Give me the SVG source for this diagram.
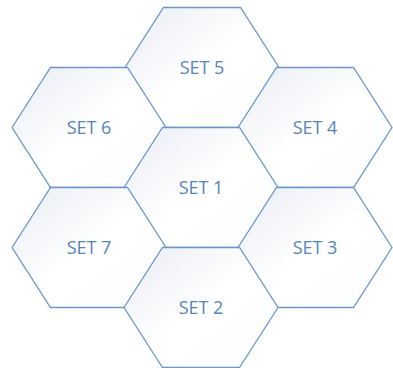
<svg xmlns="http://www.w3.org/2000/svg" width="393" height="368" viewBox="0 0 393 368">
<defs>
<linearGradient id="g" x1="0" y1="0" x2="1" y2="1">
<stop offset="0" stop-color="#e8ecf4"/>
<stop offset="0.5" stop-color="#ffffff"/>
<stop offset="1" stop-color="#fcfdfe"/>
</linearGradient>
<polygon id="hex" points="-77,0 -38.5,-60 38.5,-60 77,0 38.5,60 -38.5,60"/>
</defs>
<style>
.h{fill:url(#g);stroke:#6b98c9;stroke-width:1.3}
.t{font-family:"Open Sans","Liberation Sans",sans-serif;font-size:18px;fill:#5585bd;text-anchor:middle}
</style>
<rect width="393" height="368" fill="#ffffff"/>
<g id="connectors"/>
<g id="set5" transform="translate(202,67.5)"><use href="#hex" class="h"/><text class="t" x="0" y="6.5">SET 5</text></g>
<g id="set6" transform="translate(89,127.5)"><use href="#hex" class="h"/><text class="t" x="0" y="6.5">SET 6</text></g>
<g id="set4" transform="translate(315,127.5)"><use href="#hex" class="h"/><text class="t" x="0" y="6.5">SET 4</text></g>
<g id="set1" transform="translate(201,187.5)"><use href="#hex" class="h"/><text class="t" x="0" y="6.5">SET 1</text></g>
<g id="set7" transform="translate(89,247.5)"><use href="#hex" class="h"/><text class="t" x="0" y="6.5">SET 7</text></g>
<g id="set3" transform="translate(315,247.5)"><use href="#hex" class="h"/><text class="t" x="0" y="6.5">SET 3</text></g>
<g id="set2" transform="translate(201,307.5)"><use href="#hex" class="h"/><text class="t" x="0" y="6.5">SET 2</text></g>
</svg>
